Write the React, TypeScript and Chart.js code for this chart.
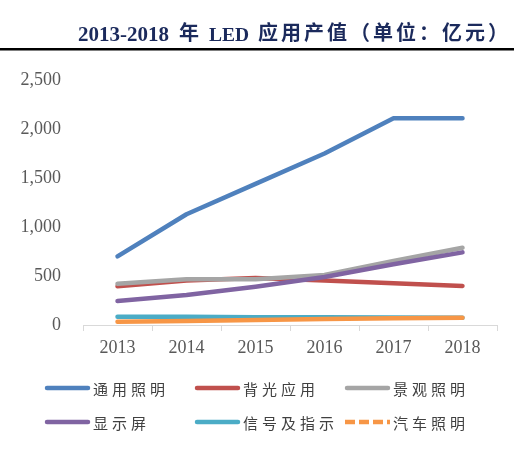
import { useEffect, useRef } from 'react';
import { Chart, registerables } from 'chart.js';

Chart.register(...registerables);

const years = ['2013', '2014', '2015', '2016', '2017', '2018'];
const seriesNames = ['通用照明', '背光应用', '景观照明', '显示屏', '信号及指示', '汽车照明'];
const generalLighting = [700, 1130, 1440, 1750, 2110, 2110];
const backlight = [395, 455, 480, 455, 425, 398];
const landscape = [420, 466, 466, 510, 653, 789];
const displayScreen = [245, 306, 391, 490, 619, 741];
const signal = [85, 83, 80, 78, 76, 74];
const automotive = [34, 40, 50, 60, 68, 74];
const yTicks = [0, 500, 1000, 1500, 2000, 2500];

const seriesValues = [generalLighting, backlight, landscape, displayScreen, signal, automotive];
const seriesColors = ['#4F81BD', '#C0504D', '#A5A5A5', '#8064A2', '#4BACC6', '#F79646'];
const legendDashed = [false, false, false, false, false, true];

const W = 514;
const H = 449;
const SERIF = "'Liberation Serif', 'Times New Roman', serif";
const CJK = "'Noto Sans CJK SC', 'Noto Sans', sans-serif";

const decorPlugin = {
  id: 'decor',
  afterDraw(chart: any) {
    const ctx: CanvasRenderingContext2D = chart.ctx;
    ctx.save();
    // rule under the title
    ctx.fillStyle = '#000000';
    ctx.fillRect(0, 48, W, 2.5);

    // title
    const navy = '#1B2A5C';
    ctx.fillStyle = navy;
    ctx.textAlign = 'left';
    ctx.textBaseline = 'alphabetic';
    ctx.font = `bold 21px ${SERIF}`;
    ctx.fillText('2013-2018', 78, 41);
    ctx.font = `bold 19.5px ${SERIF}`;
    ctx.fillText('LED', 209, 41);
    ctx.font = `bold 20px ${CJK}`;
    ctx.textBaseline = 'middle';
    ctx.fillText('年', 179, 32.5);
    const run = '应用产值（单位：亿元）';
    Array.from(run).forEach((ch, k) => {
      ctx.fillText(ch, 258 + k * 23, 32.5);
    });

    // legend
    const cols = [45, 195, 345];
    const rows = [388, 422];
    chart.data.datasets.forEach((ds: any, i: number) => {
      const x = cols[i % 3];
      const y = rows[Math.floor(i / 3)];
      ctx.save();
      ctx.strokeStyle = ds.borderColor;
      ctx.lineWidth = 4.5;
      ctx.beginPath();
      if (legendDashed[i]) {
        ctx.lineCap = 'butt';
        ctx.setLineDash([10, 4]);
        ctx.moveTo(x, y);
        ctx.lineTo(x + 45, y);
      } else {
        ctx.lineCap = 'round';
        ctx.moveTo(x + 2, y);
        ctx.lineTo(x + 43, y);
      }
      ctx.stroke();
      ctx.restore();
      ctx.fillStyle = '#404040';
      ctx.font = `15px ${CJK}`;
      ctx.textBaseline = 'middle';
      ctx.textAlign = 'left';
      Array.from(String(ds.label)).forEach((ch, k) => {
        ctx.fillText(ch, x + 48 + k * 19, y + 1);
      });
    });
    ctx.restore();
  },
};

export default function App() {
  const ref = useRef<HTMLCanvasElement>(null);

  useEffect(() => {
    const canvas = ref.current;
    if (!canvas) return;
    const chart = new Chart(canvas, {
      type: 'line',
      data: {
        labels: years,
        datasets: seriesNames.map((name, i) => ({
          label: name,
          data: seriesValues[i],
          borderColor: seriesColors[i],
          backgroundColor: seriesColors[i],
          borderWidth: 4.5,
          pointRadius: 0,
          pointHoverRadius: 0,
          tension: 0,
          fill: false,
          borderCapStyle: 'round',
          borderJoinStyle: 'round',
          order: seriesNames.length - i,
        })),
      },
      options: {
        responsive: false,
        animation: false,
        devicePixelRatio: 1,
        layout: { padding: { top: 80, right: 17, bottom: 0, left: 0 } },
        plugins: {
          legend: { display: false },
          title: { display: false },
          tooltip: { enabled: false },
        },
        scales: {
          x: {
            offset: true,
            grid: {
              offset: true,
              drawOnChartArea: false,
              drawTicks: true,
              tickLength: 6,
              color: '#D9D9D9',
            },
            border: { color: '#D9D9D9', width: 1 },
            ticks: {
              color: '#595959',
              font: { family: SERIF, size: 18 },
              padding: 6,
              maxRotation: 0,
            },
            afterFit: (s: any) => {
              s.height = 124;
            },
          },
          y: {
            min: yTicks[0],
            max: yTicks[yTicks.length - 1],
            afterBuildTicks: (s: any) => {
              s.ticks = yTicks.map((v) => ({ value: v }));
            },
            grid: { display: false, drawTicks: false },
            border: { display: false },
            ticks: {
              color: '#595959',
              font: { family: SERIF, size: 18 },
              padding: 22,
              callback: (v: any) => Number(v).toLocaleString('en-US'),
            },
            afterFit: (s: any) => {
              s.width = 83;
            },
          },
        },
      },
      plugins: [decorPlugin],
    } as any);
    return () => chart.destroy();
  }, []);

  return (
    <div style={{ position: 'fixed', left: 0, top: 0, width: W, height: H, background: '#ffffff' }}>
      <canvas ref={ref} width={W} height={H} style={{ display: 'block', width: W, height: H }} />
    </div>
  );
}
